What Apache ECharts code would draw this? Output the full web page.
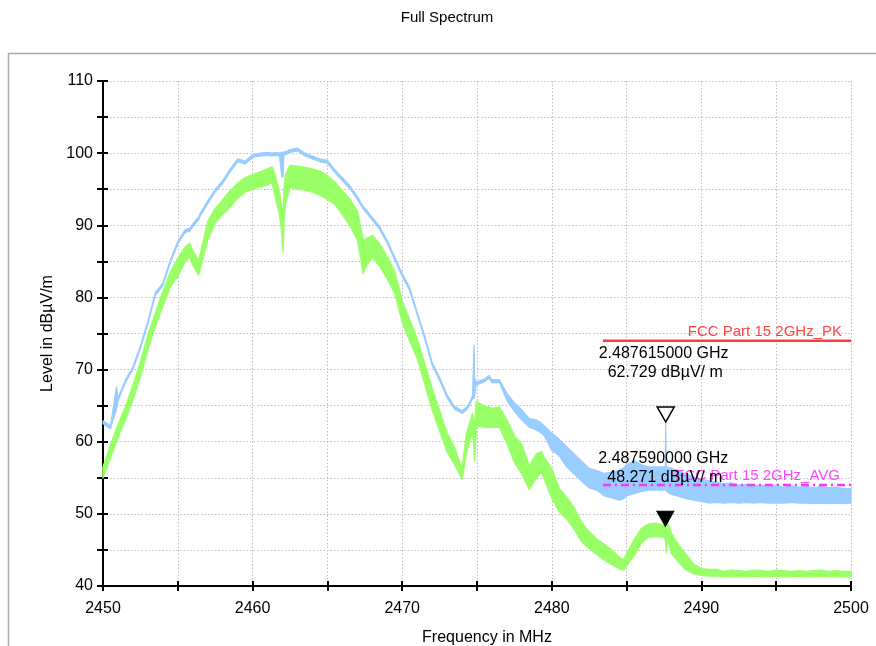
<!DOCTYPE html>
<html>
<head>
<meta charset="utf-8">
<script src="https://cdn.jsdelivr.net/npm/echarts@6/dist/echarts.min.js"></script>
<style>
  html, body { margin: 0; padding: 0; background: #ffffff; }
  #chart { width: 876px; height: 646px; }
</style>
</head>
<body>
<div id="chart"></div>
<script>
// Sweep frequencies (MHz) shared by both detector traces
const freqMHz = [
  2450, 2450.5, 2450.9, 2451, 2451.5, 2452, 2452.5, 2453, 2453.5, 2454,
  2454.5, 2455, 2455.5, 2455.8, 2456, 2456.4, 2456.5, 2457, 2457.5, 2458,
  2458.5, 2459, 2459.5, 2460, 2460.5, 2461, 2461.3, 2461.5, 2461.8, 2461.95,
  2462.03, 2462.1, 2462.2, 2462.5, 2463, 2463.5, 2464, 2464.5, 2465, 2465.5,
  2466, 2466.5, 2467, 2467.4, 2467.5, 2468, 2468.5, 2469, 2469.5, 2470,
  2470.5, 2471, 2471.5, 2472, 2472.5, 2473, 2473.5, 2474, 2474.3, 2474.5,
  2474.7, 2474.8, 2474.84, 2474.95, 2475, 2475.5, 2475.8, 2476, 2476.5, 2477,
  2477.5, 2478, 2478.5, 2479, 2479.3, 2479.5, 2480, 2480.5, 2481, 2481.5,
  2482, 2482.5, 2483, 2483.5, 2484, 2484.5, 2484.8, 2485, 2485.5, 2486,
  2486.5, 2487, 2487.5, 2487.59, 2487.615, 2487.65, 2487.75, 2488, 2488.5, 2489,
  2489.5, 2490, 2490.5, 2491, 2491.5, 2492, 2492.5, 2493, 2493.5, 2494,
  2494.5, 2495, 2495.5, 2496, 2496.5, 2497, 2497.5, 2498, 2498.5, 2499,
  2499.5, 2500
];

// Peak detector trace: upper and lower envelope (dBuV/m)
const peakHi = [
  62.9, 62.2, 67.6, 66.0, 68.6, 70.4, 73.3, 76.7, 80.7, 82.0,
  85.2, 87.8, 89.4, 89.6, 90.2, 91.2, 91.7, 93.4, 95.0, 96.2,
  97.8, 99.2, 98.9, 99.8, 100.0, 100.1, 100.0, 100.1, 100.0, 100.1,
  100.1, 100.2, 100.2, 100.5, 100.7, 100.0, 99.6, 99.2, 99.0, 97.7,
  96.6, 95.5, 94.0, 92.6, 92.4, 91.1, 89.8, 87.9, 85.6, 83.3,
  81.4, 78.0, 74.7, 71.0, 68.9, 66.5, 64.9, 64.3, 64.8, 65.4,
  66.4, 73.4, 68.8, 68.3, 68.3, 68.7, 69.2, 68.6, 68.6, 66.7,
  65.4, 64.4, 63.2, 63.0, 62.6, 62.2, 61.2, 60.3, 59.3, 58.3,
  57.3, 56.3, 56.0, 55.6, 55.8, 56.0, 56.4, 56.8, 57.4, 56.8,
  56.5, 56.5, 56.5, 56.6, 62.729, 56.6, 56.5, 56.3, 56.0, 55.5,
  55.1, 54.8, 54.6, 54.4, 54.2, 54.3, 54.0, 54.1, 53.9, 54.0,
  53.8, 53.9, 53.7, 53.9, 53.7, 53.8, 53.6, 53.8, 53.6, 53.7,
  53.5, 53.5
];
const peakLo = [
  62.5, 61.8, 64.5, 65.6, 68.2, 70.0, 72.9, 76.3, 80.3, 81.6,
  84.8, 87.4, 89.0, 89.2, 89.8, 90.8, 91.3, 93.0, 94.6, 95.8,
  97.4, 98.8, 98.5, 99.4, 99.6, 99.7, 99.6, 99.7, 99.6, 96.7,
  96.7, 99.8, 99.8, 100.1, 100.3, 99.6, 99.2, 98.8, 98.6, 97.3,
  96.2, 95.1, 93.6, 92.2, 92.0, 90.7, 89.4, 87.5, 85.2, 82.9,
  81.0, 77.6, 74.3, 70.6, 68.5, 66.1, 64.5, 63.9, 64.4, 65.0,
  66.0, 66.0, 66.3, 67.9, 67.9, 68.3, 68.8, 68.2, 68.2, 65.7,
  64.2, 63.0, 62.0, 61.6, 61.2, 60.8, 58.8, 58.0, 56.5, 55.5,
  54.5, 53.6, 53.3, 52.5, 52.2, 51.9, 52.1, 52.5, 52.8, 53.1,
  53.3, 53.3, 53.3, 53.3, 53.4, 53.2, 53.0, 52.7, 52.4, 52.1,
  51.9, 51.7, 51.5, 51.6, 51.5, 51.6, 51.5, 51.6, 51.5, 51.6,
  51.5, 51.5, 51.5, 51.6, 51.5, 51.5, 51.4, 51.5, 51.4, 51.5,
  51.4, 51.5
];

// Average detector trace: upper and lower envelope (dBuV/m)
const avgHi = [
  56.5, 59.5, 61.8, 62.3, 64.8, 67.8, 71.0, 74.8, 77.8, 80.8,
  83.5, 85.4, 87.0, 87.5, 86.5, 85.1, 86.0, 90.5, 92.3, 93.5,
  94.8, 95.8, 96.6, 97.0, 97.4, 97.8, 98.1, 97.0, 94.5, 92.5,
  90.0, 95.0, 97.0, 98.3, 98.2, 98.0, 97.8, 97.5, 96.9, 96.0,
  94.8, 93.6, 92.0, 87.9, 88.0, 88.6, 87.4, 85.6, 83.6, 79.5,
  76.9, 74.3, 70.8, 67.4, 64.3, 61.2, 59.2, 56.2, 61.2, 62.5,
  63.9, 63.0, 62.0, 65.5, 65.5, 64.9, 64.8, 64.6, 64.8, 63.0,
  60.8, 59.6, 56.6, 58.4, 58.6, 57.8, 56.2, 53.5, 52.3, 50.8,
  48.8, 47.5, 46.5, 45.8, 45.0, 44.0, 43.6, 44.5, 46.4, 48.0,
  48.6, 48.7, 48.4, 48.271, 47.8, 47.0, 48.8, 47.3, 45.6, 44.3,
  43.0, 42.4, 42.3, 42.3, 42.0, 42.2, 42.1, 42.0, 42.2, 42.1,
  42.0, 42.2, 42.1, 42.0, 42.1, 42.0, 42.1, 42.2, 42.0, 42.1,
  42.0, 42.0
];
const avgLo = [
  55.0, 57.8, 60.0, 60.6, 63.0, 65.8, 69.0, 72.8, 76.0, 78.8,
  81.5, 82.9, 85.0, 85.6, 84.5, 83.1, 84.0, 88.0, 90.4, 91.5,
  92.5, 93.8, 94.6, 95.0, 95.3, 95.6, 96.0, 94.0, 91.5, 89.0,
  86.3, 90.5, 93.0, 95.3, 95.0, 94.9, 94.6, 94.2, 93.6, 92.9,
  91.5, 90.0, 88.0, 83.3, 84.0, 85.6, 84.3, 82.6, 80.6, 76.6,
  74.0, 71.6, 68.1, 64.5, 61.5, 58.6, 56.9, 54.8, 58.4, 60.0,
  61.2, 59.0, 57.4, 62.0, 62.2, 62.0, 62.0, 62.0, 62.0, 59.8,
  57.2, 55.5, 53.4, 55.1, 55.8, 54.8, 52.2, 50.3, 49.3, 47.9,
  46.1, 45.2, 44.4, 43.6, 43.0, 42.4, 42.2, 42.8, 44.2, 46.0,
  46.8, 46.9, 46.8, 46.5, 46.0, 44.7, 46.5, 44.5, 43.3, 42.2,
  41.7, 41.5, 41.4, 41.4, 41.3, 41.3, 41.3, 41.3, 41.4, 41.3,
  41.3, 41.4, 41.3, 41.3, 41.4, 41.3, 41.3, 41.4, 41.3, 41.3,
  41.3, 41.3
];

// Limit lines
const limitFreq = [2483.42, 2500];
const limitPkLevel = [74, 74];
const limitAvgLevel = [54, 54];
const limitPkName = 'FCC Part 15 2GHz_PK';
const limitAvgName = 'FCC Part 15 2GHz_AVG';

// Markers (peak trace, average trace)
const markerFreq = [2487.615, 2487.59];
const markerLevel = [62.729, 48.271];

// Axis ticks
const xTicks = [2450, 2460, 2470, 2480, 2490, 2500];
const yTicks = [40, 50, 60, 70, 80, 90, 100, 110];

const FONT = '"Liberation Sans", Arial, sans-serif';
const BLUE = '#99ccff';
const GREEN = '#99ff66';

const zip = (xs, ys) => xs.map((x, i) => [x, ys[i]]);

// A trace drawn as the filled region between its upper and lower envelope
function envelopeSeries(name, hi, lo, color, strokeWidth, z) {
  return {
    name: name, type: 'custom', z: z, silent: true,
    data: [[freqMHz[0], lo[0]]],
    renderItem: function (params, api) {
      const pts = [];
      for (let i = 0; i < freqMHz.length; i++) pts.push(api.coord([freqMHz[i], hi[i]]));
      for (let i = freqMHz.length - 1; i >= 0; i--) pts.push(api.coord([freqMHz[i], lo[i]]));
      return {
        type: 'polygon', shape: { points: pts },
        style: { fill: color, stroke: color, lineWidth: strokeWidth, lineJoin: 'round' }
      };
    }
  };
}

const dotted = { show: true, lineStyle: { color: '#bdbdbd', width: 1, type: [1.5, 2] } };

const option = {
  animation: false,
  backgroundColor: '#ffffff',
  grid: { left: 103, right: 25, top: 81, bottom: 60, containLabel: false, outerBoundsMode: 'none' },
  xAxis: [
    {
      type: 'value', min: 2450, max: 2500, interval: 5,
      axisLine: { show: true, onZero: false, lineStyle: { color: '#000', width: 2 } },
      axisTick: { show: true, length: 5, lineStyle: { color: '#000', width: 2 } },
      axisLabel: {
        color: '#000', fontFamily: FONT, fontSize: 16, margin: 15,
        formatter: v => (xTicks.indexOf(v) >= 0 ? String(v) : '')
      },
      splitLine: dotted,
      name: 'Frequency in MHz', nameLocation: 'middle', nameGap: 44,
      nameTextStyle: { color: '#000', fontFamily: FONT, fontSize: 16, padding: [0, 0, 0, 20] }
    },
    {
      type: 'value', min: 2450, max: 2500, interval: 5, position: 'bottom',
      axisLine: { show: false, onZero: false },
      axisTick: { show: true, inside: true, length: 5, lineStyle: { color: '#000', width: 2 } },
      axisLabel: { show: false }, splitLine: { show: false }
    }
  ],
  yAxis: [
    {
      type: 'value', min: 40, max: 110, interval: 5,
      axisLine: { show: true, onZero: false, lineStyle: { color: '#000', width: 2 } },
      axisTick: { show: true, length: 6, lineStyle: { color: '#000', width: 2 } },
      axisLabel: {
        color: '#000', fontFamily: FONT, fontSize: 16, margin: 10,
        formatter: v => (yTicks.indexOf(v) >= 0 ? String(v) : '')
      },
      splitLine: dotted,
      name: 'Level in dBµV/m', nameLocation: 'middle', nameGap: 46,
      nameTextStyle: { color: '#000', fontFamily: FONT, fontSize: 16 }
    },
    {
      type: 'value', min: 40, max: 110, interval: 5, position: 'left',
      axisLine: { show: false, onZero: false },
      axisTick: { show: true, inside: true, length: 5, lineStyle: { color: '#000', width: 2 } },
      axisLabel: { show: false }, splitLine: { show: false }
    }
  ],
  series: [
    envelopeSeries('PK', peakHi, peakLo, BLUE, 1.2, 2),
    envelopeSeries('AVG', avgHi, avgLo, GREEN, 1.5, 3),
    {
      name: limitPkName, type: 'line', data: zip(limitFreq, limitPkLevel),
      symbol: 'none', lineStyle: { color: '#ff3b3b', width: 2.5 }, z: 4
    },
    {
      name: limitAvgName, type: 'line', data: zip(limitFreq, limitAvgLevel),
      symbol: 'none', lineStyle: { color: '#ff33ff', width: 2.5, type: [8, 4, 2, 4] }, z: 4
    },
    {
      name: 'markers', type: 'scatter', z: 6,
      symbol: 'triangle', symbolRotate: 180, symbolSize: [17, 15], symbolOffset: [0, '-50%'],
      data: [
        { value: [markerFreq[0], markerLevel[0]], itemStyle: { color: '#ffffff', borderColor: '#000', borderWidth: 1.5, opacity: 1 } },
        { value: [markerFreq[1], markerLevel[1]], itemStyle: { color: '#000000', borderColor: '#000', borderWidth: 1, opacity: 1 } }
      ]
    }
  ]
};

const chart = echarts.init(document.getElementById('chart'));
chart.setOption(option);

const textStyle = (text, x, y, color, align, size) => ({
  type: 'text', x: x, y: y, z: 100,
  style: { text: text, fill: color, font: size + 'px ' + FONT, textAlign: align, textVerticalAlign: 'middle' }
});

const graphics = [
  { type: 'rect', z: -1, shape: { x: 8.5, y: 53.5, width: 900, height: 700 },
    style: { fill: 'none', stroke: '#a9a9a9', lineWidth: 1.5 } },
  textStyle('Full Spectrum', 447, 18, '#000', 'center', 15)
];

const pkEnd = chart.convertToPixel({ seriesIndex: 2 }, [limitFreq[1], limitPkLevel[1]]);
const avgEnd = chart.convertToPixel({ seriesIndex: 3 }, [limitFreq[1], limitAvgLevel[1]]);
graphics.push(textStyle(limitPkName, pkEnd[0] - 9, pkEnd[1] - 9, '#ff4444', 'right', 15));
graphics.push(textStyle(limitAvgName, avgEnd[0] - 11, avgEnd[1] - 9, '#ff44ff', 'right', 15));

markerFreq.forEach((f, i) => {
  const p = chart.convertToPixel({ seriesIndex: 4 }, [f, markerLevel[i]]);
  graphics.push(textStyle((f / 1000).toFixed(9) + ' GHz', p[0] - 67, p[1] - 68, '#000', 'left', 16));
  graphics.push(textStyle(markerLevel[i].toFixed(3) + ' dBµV/ m', p[0] - 58, p[1] - 49, '#000', 'left', 16));
});

chart.setOption({ graphic: graphics });
</script>
</body>
</html>
